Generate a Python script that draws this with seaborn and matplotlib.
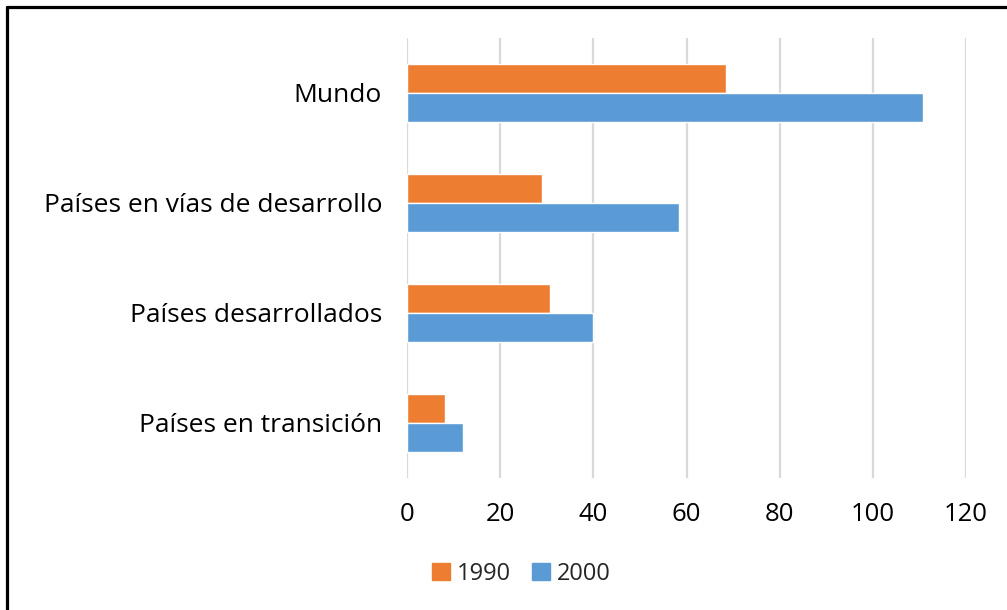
import pandas as pd
import matplotlib.pyplot as plt
import seaborn as sns

# values
categories = ["Mundo", "Países en vías de desarrollo", "Países desarrollados", "Países en transición"]
years = ["1990", "2000"]
values_1990 = [68.5, 29.0, 30.7, 8.2]
values_2000 = [110.8, 58.4, 39.9, 12.0]
x_ticks = [0, 20, 40, 60, 80, 100, 120]


def main():
    sns.set_theme(style="white")
    plt.rcParams["font.family"] = ["Open Sans", "DejaVu Sans"]

    df = pd.DataFrame({
        "Región": categories * 2,
        "Año": [years[0]] * 4 + [years[1]] * 4,
        "Valor": values_1990 + values_2000,
    })

    fig = plt.figure(figsize=(10.07, 6.1), dpi=100)
    ax = fig.add_axes([407 / 1007, 1 - 478 / 610, (966 - 407) / 1007, (478 - 38) / 610])

    sns.barplot(data=df, y="Región", x="Valor", hue="Año", hue_order=years,
                order=categories, orient="h", width=0.52,
                palette=["#ED7D31", "#5B9BD5"], saturation=1, ax=ax, legend=False)

    ax.set_xlim(0, 120)
    ax.set_xticks(x_ticks)
    ax.set_xlabel("")
    ax.set_ylabel("")
    ax.grid(axis="x", color="#D9D9D9", linewidth=1.6)
    ax.set_axisbelow(True)
    for s in ax.spines.values():
        s.set_visible(False)
    ax.tick_params(axis="x", length=0, pad=17, labelsize=18.5, colors="#000000")
    ax.tick_params(axis="y", length=0, pad=18, labelsize=19, colors="#000000")

    handles = [plt.Rectangle((0, 0), 1, 1, color=c) for c in ["#ED7D31", "#5B9BD5"]]
    fig.legend(handles, years, loc="center", bbox_to_anchor=(0.518, 1 - 574 / 610),
               ncol=2, frameon=False, fontsize=17, handlelength=0.75, handleheight=0.75,
               handletextpad=0.3, columnspacing=0.9)

    # black frame visible on the left and top edges
    fig.add_artist(plt.Line2D([6.5 / 1007, 6.5 / 1007], [0, 1 - 7 / 610],
                              transform=fig.transFigure, color="black", lw=2.3))
    fig.add_artist(plt.Line2D([6.5 / 1007, 1], [1 - 7 / 610, 1 - 7 / 610],
                              transform=fig.transFigure, color="black", lw=2.3))

    fig.savefig("out.png", dpi=100)


if __name__ == "__main__":
    main()
